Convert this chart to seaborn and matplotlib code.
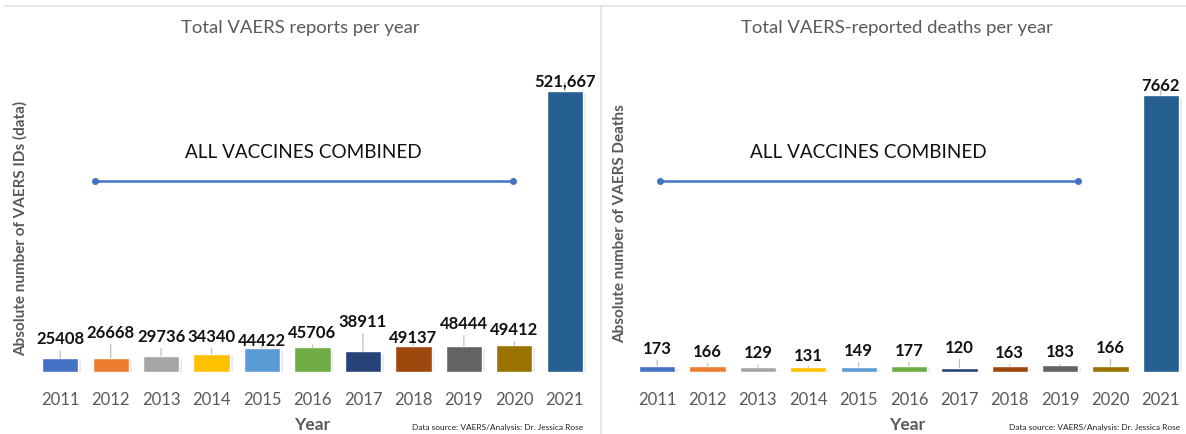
import matplotlib
matplotlib.use("Agg")
import matplotlib.pyplot as plt
import matplotlib.patheffects as pe
from matplotlib.lines import Line2D
import seaborn as sns
import pandas as pd

# ---- data ----
years = ["2011", "2012", "2013", "2014", "2015", "2016",
         "2017", "2018", "2019", "2020", "2021"]
reports = [25408, 26668, 29736, 34340, 44422, 45706,
           38911, 49137, 48444, 49412, 521667]
deaths = [173, 166, 129, 131, 149, 177, 120, 163, 183, 166, 7662]

report_labels = [str(v) for v in reports[:-1]] + [f"{reports[-1]:,}"]
death_labels = [str(v) for v in deaths]

# ---- style ----
year_colors = ["#4472C4", "#ED7D31", "#A5A5A5", "#FFC000", "#5B9BD5", "#70AD47",
               "#264478", "#9E480E", "#636363", "#997300", "#255E91"]
# vertical placement of the value callouts (pixels above the bar top)
report_label_lift = [20, 26, 20, 18, 8, 15, 30, 9, 23, 16, 10]
death_label_lift = [18, 15, 15, 12, 17, 16, 21, 14, 14, 19, 10]

sns.set_theme(style="white")
plt.rcParams["font.family"] = ["Lato", "DejaVu Sans"]

W, H = 1186, 435
fig = plt.figure(figsize=(W / 100, H / 100), dpi=100)
fig.patch.set_facecolor("white")

GRAY = "#595959"


def px_axes(left, top, right, bottom):
    return fig.add_axes([left / W, 1 - bottom / H, (right - left) / W, (bottom - top) / H])


def panel(ax, values, labels, lifts, ymax, xmax):
    df = pd.DataFrame({"year": years, "value": values})
    sns.barplot(data=df, x="year", y="value", hue="year", palette=year_colors,
                legend=False, width=0.72, saturation=1, ax=ax)
    for p in ax.patches:
        p.set_path_effects([pe.SimplePatchShadow(offset=(2, -2), shadow_rgbFace="#b0b0b0",
                                                 alpha=0.25), pe.Normal()])
    ax.set_ylim(0, ymax)
    ax.set_xlim(-0.5, xmax)
    for i, (v, lab, lift) in enumerate(zip(values, labels, lifts)):
        ax.annotate(lab, xy=(i, v), xytext=(0, lift), textcoords="offset pixels",
                    ha="center", va="center", fontsize=12, fontweight="bold",
                    color="#111111",
                    arrowprops=dict(arrowstyle="-", color="#BFBFBF", lw=0.9,
                                    shrinkA=1, shrinkB=0))
    ax.set_yticks([])
    ax.tick_params(axis="x", length=0, pad=14, labelsize=12, labelcolor=GRAY)
    ax.set_xlabel("Year", fontsize=12.5, fontweight="bold", color=GRAY, labelpad=6)
    ax.set_ylabel("")
    for s in ax.spines.values():
        s.set_visible(False)
    ax.patch.set_alpha(0)


ax1 = px_axes(35, 60, 590, 373)
panel(ax1, reports, report_labels, report_label_lift, 581000, 10.5)
ax2 = px_axes(632, 60, 1182, 373)
panel(ax2, deaths, death_labels, death_label_lift, 8660, 10.42)

# panel frames
fig.add_artist(Line2D([5 / W, 1], [1 - 7 / H] * 2, color="#E3E3E3", lw=1.2))
fig.add_artist(Line2D([601 / W] * 2, [0, 1 - 7 / H], color="#E3E3E3", lw=1.2))


def ftext(x, y, s, **kw):
    fig.text(x / W, 1 - y / H, s, **kw)


ftext(300, 28, "Total VAERS reports per year", ha="center", va="center",
      fontsize=13.3, color=GRAY)
ftext(897, 28, "Total VAERS-reported deaths per year", ha="center", va="center",
      fontsize=13.3, color=GRAY)
ftext(20, 228, "Absolute number of VAERS IDs (data)", ha="center", va="center",
      rotation=90, fontsize=11, fontweight="bold", color=GRAY)
ftext(620, 224, "Absolute number of VAERS Deaths", ha="center", va="center",
      rotation=90, fontsize=11, fontweight="bold", color=GRAY)

for cx, x0, x1 in [(303, 95, 513), (868, 660, 1078)]:
    ftext(cx, 153, "ALL VACCINES COMBINED", ha="center", va="center",
          fontsize=13.6, color="#111111")
    fig.add_artist(Line2D([x0 / W, x1 / W], [1 - 182 / H] * 2, color="#4472C4",
                          lw=1.8, marker="o", markersize=4, markevery=[0, 1]))

ftext(583, 428, "Data source: VAERS/Analysis: Dr. Jessica Rose", ha="right",
      va="center", fontsize=6, color="#222222")
ftext(1180, 428, "Data source: VAERS/Analysis: Dr. Jessica Rose", ha="right",
      va="center", fontsize=6, color="#222222")

fig.savefig("out.png", dpi=100, facecolor="white")
